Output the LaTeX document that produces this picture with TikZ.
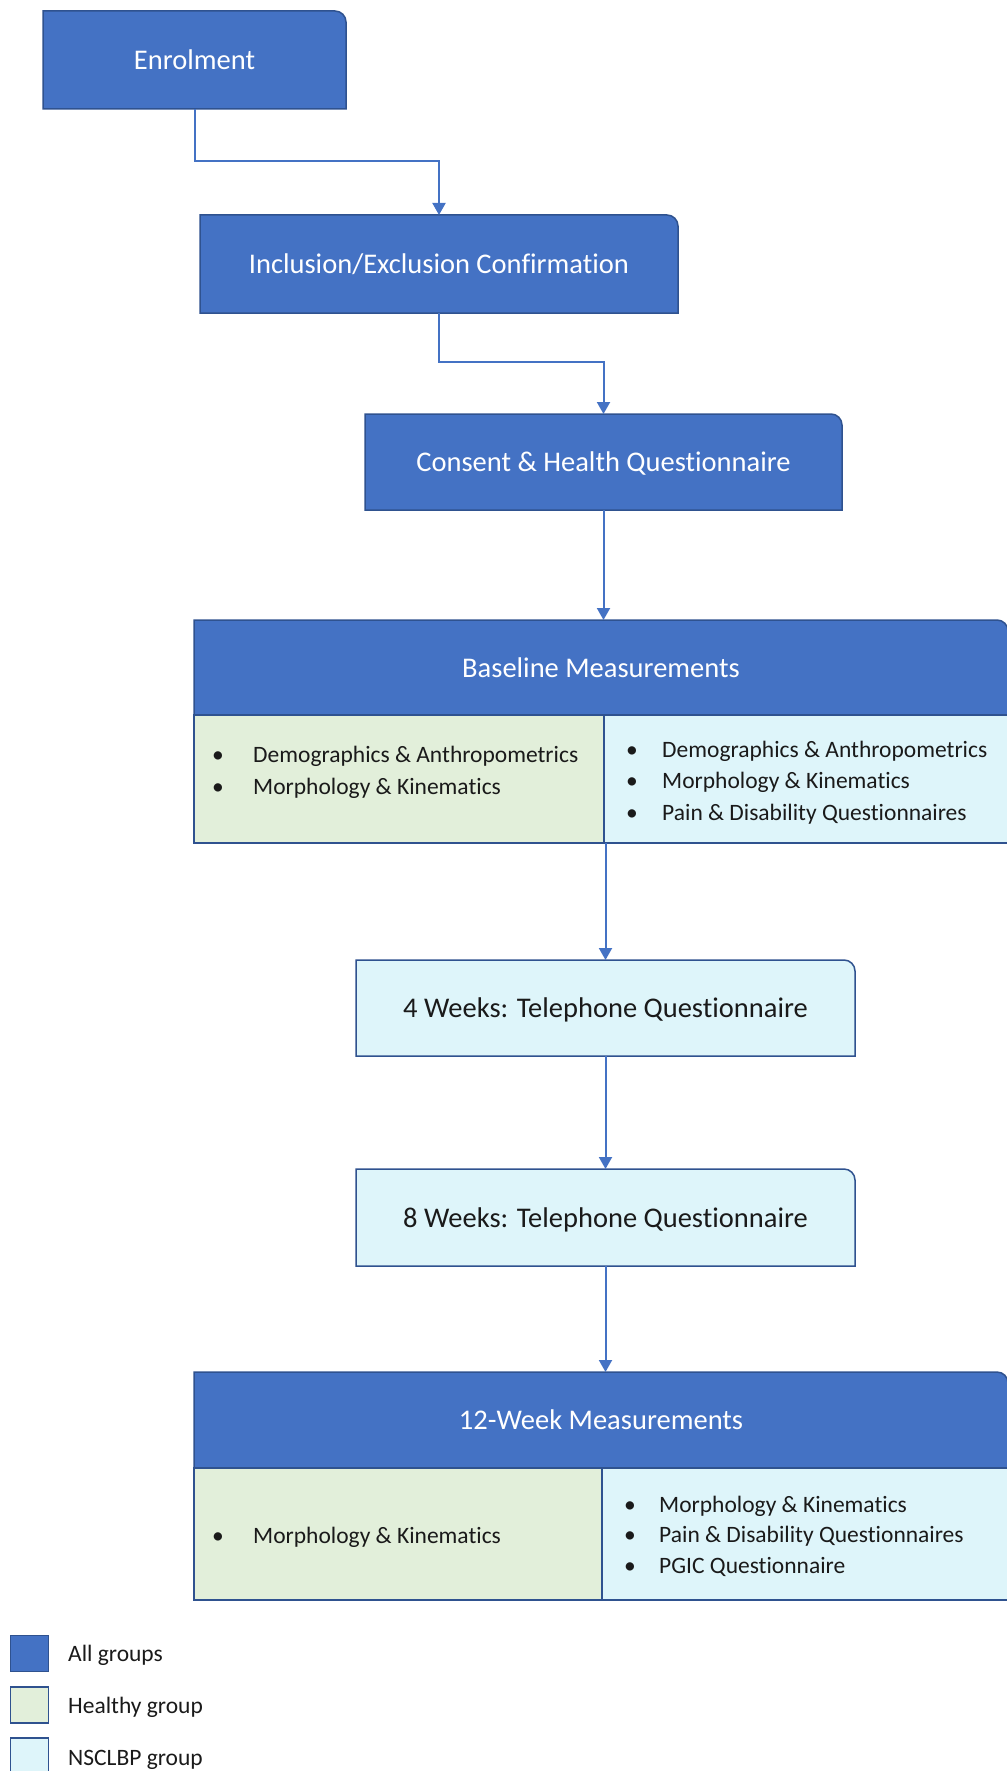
\documentclass[tikz,border=0pt]{standalone}
\usepackage{fontspec}
\setmainfont{Carlito}[Ligatures=NoCommon]
\usetikzlibrary{arrows.meta}
\definecolor{allblue}{HTML}{4472C4}
\definecolor{edgeblue}{HTML}{2F528F}
\definecolor{healthy}{HTML}{E2EFDA}
\definecolor{nsclbp}{HTML}{DEF5FA}
\definecolor{ink}{HTML}{1A1A1A}
\pgfdeclarelayer{bg}
\pgfsetlayers{bg,main}
\newcommand\tabshape[2]{%
  \begin{pgfonlayer}{bg}
    \draw[edge,fill=#2] (#1.south west) -- (#1.north west) -- ([xshift=-11pt]#1.north east)
      arc[start angle=90,end angle=0,radius=11pt] -- (#1.south east) -- cycle;
  \end{pgfonlayer}}
\tikzset{
  edge/.style={draw=edgeblue, line width=1.5pt},
  boxnode/.style={rectangle, inner sep=0pt, outer sep=0pt, align=center,
    text height=19pt, text depth=0pt, font=\fontsize{28.5}{34}\selectfont},
  allnode/.style={boxnode, text=white},
  lightnode/.style={boxnode, text=ink},
  cell/.style={rectangle, inner sep=0pt, outer sep=0pt, edge},
  flow/.style={draw=allblue, line width=2pt, -{Triangle[length=12pt,width=13pt]}},
  item/.style={anchor=base west, inner sep=0pt, text=ink, font=\fontsize{23.5}{28}\selectfont},
  dot/.style={anchor=base, inner sep=0pt, text=ink, font=\fontsize{23.5}{28}\selectfont},
  legendbox/.style={rectangle, edge, line width=1.8pt, minimum width=38pt, minimum height=36pt, inner sep=0pt, outer sep=0pt},
}
\begin{document}
\begin{tikzpicture}[x=1pt,y=1pt]
\useasboundingbox (0,0) rectangle (1006,-1771);

% main boxes
\node[allnode, minimum width=303pt, minimum height=98pt] (enrol) at (194.5,-60) {Enrolment};
\tabshape{enrol}{allblue}
\node[allnode, minimum width=478pt, minimum height=98pt] (incl) at (439,-264) {Inclusion/Exclusion Confirmation};
\tabshape{incl}{allblue}
\node[allnode, minimum width=477pt, minimum height=96pt] (consent) at (603.5,-462) {Consent \& Health Questionnaire};
\tabshape{consent}{allblue}

% baseline
\node[allnode, minimum width=814pt, minimum height=95pt] (bhead) at (601,-667.5) {Baseline Measurements};
\tabshape{bhead}{allblue}
\node[cell, fill=healthy, minimum width=410pt, minimum height=128pt] (baseL) at (399,-779) {};
\node[cell, fill=nsclbp, minimum width=404pt, minimum height=128pt] (baseR) at (806,-779) {};
\node[dot] (bl1d) at (218,-762) {\textbullet};
\node[item] (bl1) at (253,-762) {Demographics \& Anthropometrics};
\node[dot] (bl2d) at (218,-794) {\textbullet};
\node[item] (bl2) at (253,-794) {Morphology \& Kinematics};
\node[dot] (br1d) at (632,-757) {\textbullet};
\node[item] (br1) at (662,-757) {Demographics \& Anthropometrics};
\node[dot] (br2d) at (632,-788) {\textbullet};
\node[item] (br2) at (662,-788) {Morphology \& Kinematics};
\node[dot] (br3d) at (632,-820) {\textbullet};
\node[item] (br3) at (662,-820) {Pain \& Disability Questionnaires};

% telephone
\node[lightnode, minimum width=499pt, minimum height=96pt] (w4) at (605.5,-1008) {4 Weeks: Telephone Questionnaire};
\tabshape{w4}{nsclbp}
\node[lightnode, minimum width=499pt, minimum height=97pt] (w8) at (605.5,-1217.5) {8 Weeks: Telephone Questionnaire};
\tabshape{w8}{nsclbp}

% 12 week
\node[allnode, minimum width=814pt, minimum height=96pt] (thead) at (601,-1420) {12-Week Measurements};
\tabshape{thead}{allblue}
\node[cell, fill=healthy, minimum width=408pt, minimum height=132pt] (twL) at (398,-1534) {};
\node[cell, fill=nsclbp, minimum width=406pt, minimum height=132pt] (twR) at (805,-1534) {};
\node[dot] (tl1d) at (218,-1543) {\textbullet};
\node[item] (tl1) at (253,-1543) {Morphology \& Kinematics};
\node[dot] (tr1d) at (630,-1512) {\textbullet};
\node[item] (tr1) at (659,-1512) {Morphology \& Kinematics};
\node[dot] (tr2d) at (630,-1542) {\textbullet};
\node[item] (tr2) at (659,-1542) {Pain \& Disability Questionnaires};
\node[dot] (tr3d) at (630,-1573) {\textbullet};
\node[item] (tr3) at (659,-1573) {PGIC Questionnaire};

% connectors
\draw[flow] (enrol.south) -- ++(0,-52) -| (incl.north);
\draw[flow] (incl.south) -- ++(0,-49) -| (consent.north);
\draw[flow] (consent.south) -- (consent.south |- bhead.north);
\draw[flow] (w4.north |- baseL.south) -- (w4.north);
\draw[flow] (w4.south) -- (w8.north);
\draw[flow] (w8.south) -- (w8.south |- thead.north);

% legend
\node[legendbox, fill=allblue] (lg1) at (29.5,-1653.5) {};
\node[item] (lg1t) at (68,-1661) {All groups};
\node[legendbox, fill=healthy] (lg2) at (29.5,-1705) {};
\node[item] (lg2t) at (68,-1713) {Healthy group};
\node[legendbox, fill=nsclbp] (lg3) at (29.5,-1756) {};
\node[item] (lg3t) at (68,-1765) {NSCLBP group};
\end{tikzpicture}
\end{document}
